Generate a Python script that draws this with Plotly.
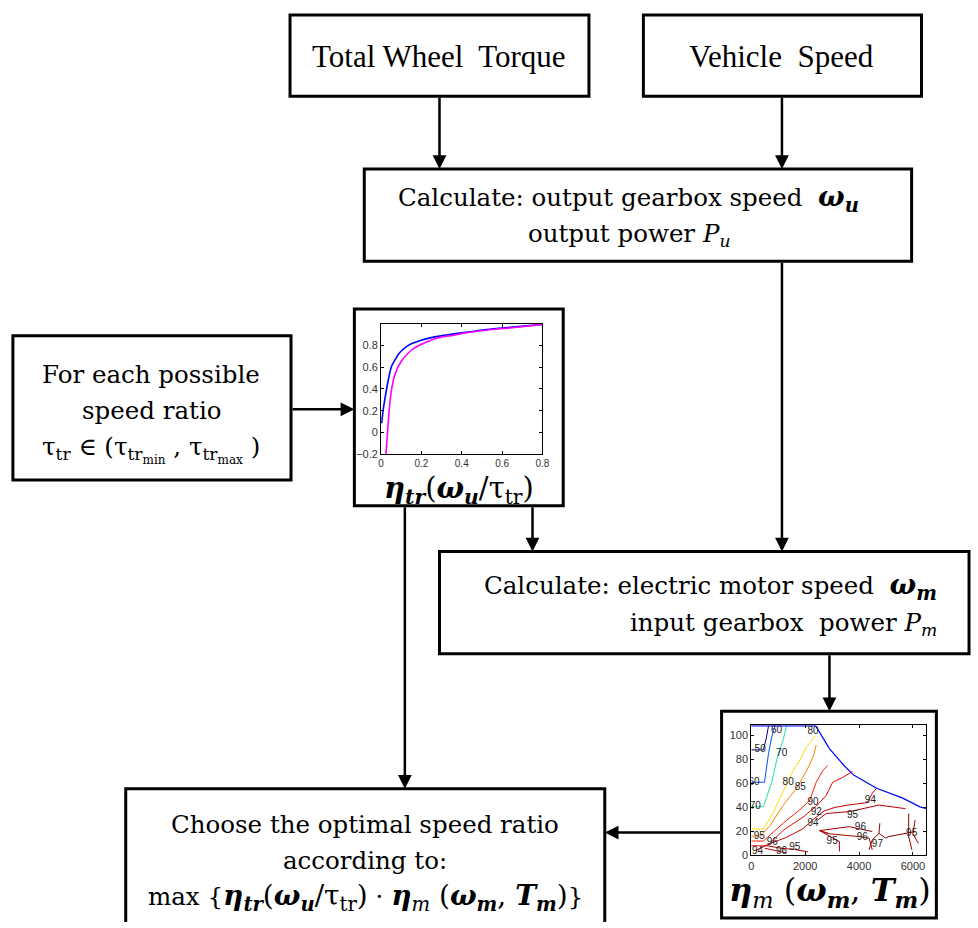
import plotly.graph_objects as go

W, H = 978, 928

# ---------------- data: transmission efficiency curves (inset 1) ----------------
tr_x_blue = [0.003, 0.01, 0.0195, 0.036, 0.052, 0.07, 0.085, 0.1, 0.133, 0.198, 0.28, 0.361, 0.45, 0.523, 0.65, 0.8]
tr_y_blue = [0.084, 0.2, 0.315, 0.485, 0.609, 0.67, 0.717, 0.75, 0.8, 0.849, 0.885, 0.908, 0.93, 0.948, 0.97, 0.995]
tr_x_mag = [0.024, 0.031, 0.041, 0.052, 0.068, 0.1, 0.15, 0.198, 0.28, 0.361, 0.45, 0.523, 0.65, 0.8]
tr_y_mag = [-0.2, -0.024, 0.223, 0.393, 0.53, 0.655, 0.757, 0.81, 0.87, 0.896, 0.925, 0.942, 0.965, 0.995]
tr_xticks = [0, 0.2, 0.4, 0.6, 0.8]
tr_yticks = [-0.2, 0, 0.2, 0.4, 0.6, 0.8]

# ---------------- data: motor efficiency map (inset 2) ----------------
m_boundary_x = [0, 2390, 2900, 3440, 3800, 4650, 5600, 6260, 6500]
m_boundary_y = [108, 108, 89, 75, 67, 56, 48, 40.5, 39]

m_levels = [
    # (label, colour, xs, ys)
    ("50", "#00008F", [0, 450, 560, 640], [88, 88, 98, 108]),
    ("60", "#0050FF", [0, 490, 640, 760, 880], [61, 61, 85, 99, 108]),
    ("70", "#20E0A0", [0, 450, 760, 1000, 1190, 1310], [40.6, 40.6, 61, 85, 97, 108]),
    ("80", "#FFE000", [0, 450, 820, 1190, 1555, 1740, 2040, 2390], [22, 22, 36, 53, 71, 77, 90, 100]),
    ("85", "#FF8000", [0, 330, 700, 1190, 1680, 2040, 2290, 2410], [16, 16, 25, 42, 56, 70, 82, 92]),
    ("90", "#FF2000", [0, 450, 1190, 1800, 2170, 2410, 2660, 2840], [12, 12, 27, 38, 46, 61, 71, 75]),
    ("92", "#E80000", [0, 600, 1190, 1920, 2410, 2780, 3020, 3390, 3760], [8, 8, 21, 32, 41, 50, 61, 65, 70]),
    ("94", "#C80000", [150, 700, 1300, 1900, 2300, 2700, 3100, 3600, 4300, 4500, 4650], [4, 10, 15, 22, 30, 37, 40, 42, 44, 52, 56]),
    ("95", "#B00000", [2470, 2780, 3640, 4550, 4740, 5720], [29.6, 35, 36.5, 40.6, 42, 39]),
    ("96", "#A00000", [2900, 2535, 3640, 4490], [18, 20.7, 24, 19.9]),
    ("96", "#A00000", [2535, 2900, 4000, 4370, 4490], [20.7, 18, 15.7, 14.4, 4.7]),
    ("95", "#B00000", [2535, 3270, 3270], [20.7, 11.6, 3.3]),
    ("97", "#900000", [4370, 4490, 4740, 4770], [4.7, 13, 18.5, 26.8]),
    ("97", "#900000", [4740, 4980, 5100, 5720, 6080], [18.5, 14.4, 15.7, 18, 19.9]),
    ("96", "#900000", [5840, 5840, 5960], [35, 15.7, 4.7]),
    ("95", "#A00000", [6080, 6000, 6200], [29.6, 18, 10]),
    ("95", "#B00000", [600, 1100, 1600, 2100], [8, 6, 5, 3]),
    ("96", "#A00000", [500, 900, 1300], [6, 4, 2]),
]
m_label_text = ["50", "60", "60", "70", "70", "80", "80", "85", "90", "92", "94", "94", "95", "96", "96", "95", "97", "95", "94", "96", "95", "95", "96"]
m_label_x = [330, 100, 940, 150, 1130, 1370, 2290, 1820, 2290, 2410, 2290, 4420, 3760, 4050, 4120, 3000, 4680, 5950, 230, 780, 1615, 300, 1120]
m_label_y = [88, 61, 104, 40.6, 85, 61, 103, 57, 44, 36, 27, 46, 33, 23, 15, 12, 9, 18, 3.5, 11, 6.5, 16, 3]
m_xticks = [0, 2000, 4000, 6000]
m_yticks = [0, 20, 40, 60, 80, 100]

fig = go.Figure()

# ---- inset 1 traces ----
fig.add_trace(go.Scatter(x=tr_x_blue, y=tr_y_blue, mode="lines", line=dict(color="#0000FF", width=1.6, shape="spline"),
                         xaxis="x2", yaxis="y2", showlegend=False, hoverinfo="skip"))
fig.add_trace(go.Scatter(x=tr_x_mag, y=tr_y_mag, mode="lines", line=dict(color="#FF00FF", width=1.6, shape="spline"),
                         xaxis="x2", yaxis="y2", showlegend=False, hoverinfo="skip"))

# ---- inset 2 traces ----
for lab, col, xs, ys in m_levels:
    fig.add_trace(go.Scatter(x=xs, y=ys, mode="lines", line=dict(color=col, width=1),
                             xaxis="x3", yaxis="y3", showlegend=False, hoverinfo="skip"))
fig.add_trace(go.Scatter(x=m_boundary_x, y=m_boundary_y, mode="lines", line=dict(color="#0000FF", width=1.2),
                         xaxis="x3", yaxis="y3", showlegend=False, hoverinfo="skip"))
fig.add_trace(go.Scatter(x=m_label_x, y=m_label_y, mode="text", text=m_label_text,
                         textfont=dict(family="Liberation Sans", size=10, color="#222"),
                         xaxis="x3", yaxis="y3", showlegend=False, hoverinfo="skip"))

# ---------------- flowchart boxes ----------------
boxes = [
    (290, 15, 592, 97),     # Total wheel torque
    (647, 15, 928, 97),     # Vehicle speed
    (365, 170, 918, 263),   # Calculate 1
    (10, 338, 291, 483),    # For each possible speed ratio
    (355, 311, 566, 509),   # inset 1 frame
    (441, 555, 976, 658),   # Calculate 2
    (726, 716, 943, 924),   # inset 2 frame
    (124, 794, 608, 940),   # Choose
]
shapes = []
for x0, y0, x1, y1 in boxes:
    shapes.append(dict(type="rect", xref="x", yref="y", x0=x0, y0=y0, x1=x1, y1=y1,
                       line=dict(color="black", width=3), fillcolor="rgba(0,0,0,0)", layer="below"))

arrows = [
    ((441, 97), (441, 170)),
    ((787, 97), (787, 170)),
    ((787, 263), (787, 555)),
    ((291, 412), (355, 412)),
    ((535, 509), (535, 555)),
    ((406, 509), (406, 794)),
    ((835, 658), (835, 716)),
    ((726, 838), (608, 838)),
]
annotations = []
for (tx, ty), (hx, hy) in arrows:
    annotations.append(dict(x=hx, y=hy, ax=tx, ay=ty, xref="x", yref="y", axref="x", ayref="y",
                            text="", showarrow=True, arrowhead=2, arrowsize=1.1, arrowwidth=2.5,
                            arrowcolor="black", standoff=0, startstandoff=0))

SERIF = "DejaVu Serif"
def txt(x, y, s, size=24.5, family=SERIF, anchor="center"):
    annotations.append(dict(x=x, y=y, xref="x", yref="y", text=s, showarrow=False,
                            xanchor=anchor, yanchor="middle",
                            font=dict(family=family, size=size, color="black")))

def big(s, px=28):
    return f'<span style="font-size:{px}px">{s}</span>'

txt(441, 57, "Total Wheel  Torque", size=31, family="Liberation Serif")
txt(787, 57, "Vehicle  Speed", size=31, family="Liberation Serif")

txt(632, 200, "Calculate: output gearbox speed  " + big("<b><i>ω</i></b><sub><b><i>u</i></b></sub>"))
txt(632, 237, "output power <i>P</i><sub><i>u</i></sub>")

txt(150, 377, "For each possible")
txt(150, 413, "speed ratio")
txt(150, 452, "τ<sub>tr</sub> ∈ (τ<sub>tr<sub>min</sub></sub> , τ<sub>tr<sub>max</sub></sub> )")

txt(946, 590, "Calculate: electric motor speed  " + big("<b><i>ω</i></b><sub><b><i>m</i></b></sub>"), anchor="right")
txt(946, 628, "input gearbox  power <i>P</i><sub><i>m</i></sub>", anchor="right")

txt(366, 830, "Choose the optimal speed ratio")
txt(366, 866, "according to:")
txt(366, 903, "max {" + big("<b><i>η</i></b><sub><b><i>tr</i></b></sub>(<b><i>ω</i></b><sub><b><i>u</i></b></sub>/τ<sub>tr</sub>)") + " · "
              + big("<b><i>η</i></b><sub><i>m</i></sub> (<b><i>ω</i></b><sub><b><i>m</i></b></sub>, <b><i>T</i></b><sub><b><i>m</i></b></sub>)") + "}")

txt(461, 493, "<b><i>η</i></b><sub><b><i>tr</i></b></sub>(<b><i>ω</i></b><sub><b><i>u</i></b></sub>/τ<sub>tr</sub>)", size=29)
txt(836, 898, "<b><i>η</i></b><sub><i>m</i></sub> (<b><i>ω</i></b><sub><b><i>m</i></b></sub>, <b><i>T</i></b><sub><b><i>m</i></b></sub>)", size=32)

tickfont = dict(family="Liberation Sans", size=11, color="#333")
def inset_axis(domain, rng, ticks, anchor, size=11):
    return dict(domain=domain, range=rng, tickvals=ticks, ticks="inside", ticklen=3, tickcolor="black",
                showline=True, linecolor="black", linewidth=1, mirror="ticks", showgrid=False,
                zeroline=False, tickfont=dict(family="Liberation Sans", size=size, color="#333"),
                anchor=anchor, fixedrange=True)

fig.update_layout(
    width=W, height=H, margin=dict(l=0, r=0, t=0, b=0),
    paper_bgcolor="white", plot_bgcolor="rgba(0,0,0,0)",
    xaxis=dict(range=[0, W], domain=[0, 1], visible=False, fixedrange=True),
    yaxis=dict(range=[H, 0], domain=[0, 1], visible=False, fixedrange=True),
    xaxis2=inset_axis([382 / W, 545 / W], [0, 0.8], tr_xticks, "y2", size=10),
    yaxis2=inset_axis([1 - 457 / H, 1 - 326 / H], [-0.2, 1.0], tr_yticks, "x2"),
    xaxis3=inset_axis([756 / W, 933 / W], [0, 6500], m_xticks, "y3"),
    yaxis3=inset_axis([1 - 861 / H, 1 - 730 / H], [0, 108.5], m_yticks, "x3"),
    shapes=shapes, annotations=annotations, showlegend=False,
)

PAGE_CSS = "margin:0;padding:0;overflow:hidden;width:978px;height:928px;"
post = (
    "var gd=document.getElementById('{plot_id}');"
    f"document.documentElement.style.cssText='{PAGE_CSS}';"
    f"document.body.style.cssText='{PAGE_CSS}';"
    f"if(gd&&gd.parentElement){{gd.parentElement.style.cssText='{PAGE_CSS}';}}"
)
fig.write_html("out.html", config={"displayModeBar": False, "responsive": False}, post_script=post)
